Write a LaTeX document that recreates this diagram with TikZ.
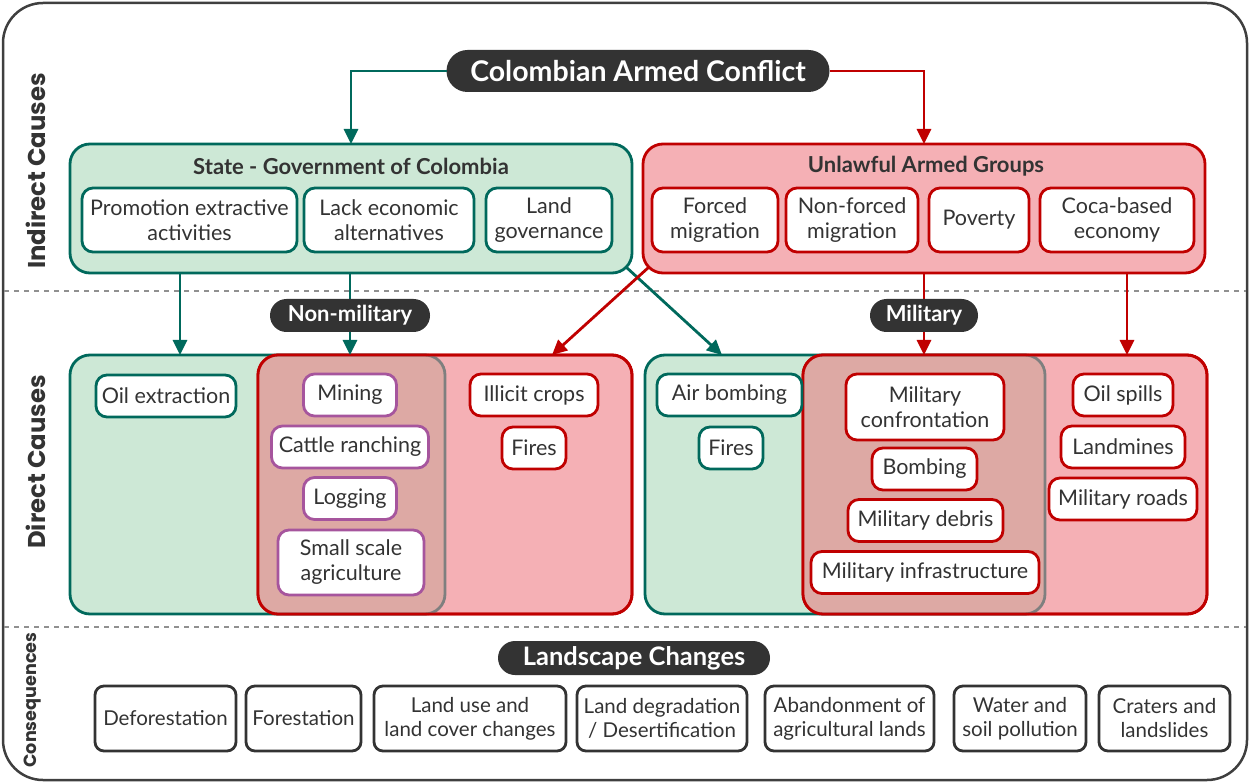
\documentclass[tikz,border=0pt]{standalone}
\usepackage{fontspec}
\setmainfont{Lato}
\newfontfamily\sidefont{Poppins}
\usetikzlibrary{arrows.meta,calc}
\definecolor{tealc}{HTML}{00695C}
\definecolor{greenf}{HTML}{CDE8D6}
\definecolor{redc}{HTML}{C00000}
\definecolor{pinkf}{HTML}{F5B0B5}
\definecolor{overf}{HTML}{DDA9A4}
\definecolor{grayedge}{HTML}{7F7F7F}
\definecolor{purpc}{HTML}{A6559D}
\definecolor{darkc}{HTML}{333333}
\definecolor{framec}{HTML}{3F3F3F}
\definecolor{dashc}{HTML}{909090}
\begin{document}
\begin{tikzpicture}[x=1pt,y=-1pt,
  every node/.style={outer sep=0pt, text=darkc},
  body/.style={font=\fontsize{21.5}{25}\selectfont},
  inbox/.style={draw, fill=white, rounded corners=11, line width=2.8pt, align=center, inner sep=0pt, minimum height=42pt, body},
  tbox/.style={inbox, draw=tealc},
  rbox/.style={inbox, draw=redc},
  pbox/.style={inbox, draw=purpc},
  cbox/.style={draw=darkc, fill=white, rounded corners=9, line width=2.8pt, align=center, inner sep=0pt, minimum height=65pt, font=\fontsize{20.5}{24}\selectfont},
  gbig/.style={draw=tealc, fill=greenf, rounded corners=20, line width=2.8pt, inner sep=0pt},
  rbig/.style={draw=redc, fill=pinkf, rounded corners=20, line width=2.8pt, inner sep=0pt},
  gtitle/.style={font=\bfseries\fontsize{22}{26}\selectfont},
  pill/.style={fill=darkc, text=white, inner sep=0pt, font=\bfseries\fontsize{22}{26}\selectfont},
  sidelab/.style={rotate=90, text=darkc, font=\sidefont\bfseries\fontsize{24.3}{28}\selectfont},
  tarr/.style={draw=tealc, line width=2.8pt, -{Triangle[width=14pt,length=15pt]}},
  rarr/.style={draw=redc, line width=2.8pt, -{Triangle[width=14pt,length=15pt]}},
  dashline/.style={draw=dashc, line width=2.5pt, dash pattern=on 5pt off 5pt}
]
\useasboundingbox (0,0) rectangle (1250,783);
% frame
\draw[draw=framec, line width=2.5pt, rounded corners=40] (3,3) rectangle (1247,780);
\draw[dashline] (4,291) -- (1246,291);
\draw[dashline] (4,627) -- (1246,627);
% side labels
\node[sidelab] (lab1) at (36,171) {Indirect Causes};
\node[sidelab] (lab2) at (36,462) {Direct Causes};
\node[sidelab, font=\sidefont\bfseries\fontsize{17.6}{20}\selectfont] (lab3) at (33,700) {Consequences};

% columns
\coordinate (c1) at (180,0);
\coordinate (c2) at (350,0);
\coordinate (c3) at (924,0);
\coordinate (c4) at (1127,0);
\coordinate (d1) at (722,0);
\coordinate (d2) at (552,0);

% title
\node[pill, rounded corners=21, minimum width=383pt, minimum height=42pt, font=\bfseries\fontsize{28.5}{32}\selectfont] (conf) at (638,71) {Colombian Armed Conflict};

% indirect groups
\node[gbig, minimum width=562pt, minimum height=129pt] (state) at (351,208.5) {};
\node[rbig, minimum width=562pt, minimum height=129pt] (ua) at (924,208.5) {};
\node[gtitle] (statet) at (351,166) {State - Government of Colombia};
\node[gtitle] (uat) at (926,166) {Unlawful Armed Groups};
\node[tbox, minimum width=215pt, minimum height=64pt] (p1) at (189.5,220) {Promotion extractive\\activities};
\node[tbox, minimum width=170pt, minimum height=64pt] (p2) at (389,220) {Lack economic\\alternatives};
\node[tbox, minimum width=126pt, minimum height=64pt] (p3) at (549,220) {Land\\governance};
\node[rbox, minimum width=126pt, minimum height=64pt] (u1) at (715,220) {Forced\\migration};
\node[rbox, minimum width=132pt, minimum height=64pt] (u2) at (852,220) {Non-forced\\migration};
\node[rbox, minimum width=100pt, minimum height=64pt] (u3) at (979,220) {Poverty};
\node[rbox, minimum width=154pt, minimum height=64pt] (u4) at (1117,220) {Coca-based\\economy};

% direct groups
\node[gbig, minimum width=375pt, minimum height=259pt] (gb1) at (257.5,484.5) {};
\node[rbig, minimum width=374pt, minimum height=259pt] (rb1) at (445,484.5) {};
\node[gbig, minimum width=400pt, minimum height=259pt] (gb2) at (845,484.5) {};
\node[rbig, minimum width=404pt, minimum height=259pt] (rb2) at (1005,484.5) {};
\begin{scope}
\clip[rounded corners=20] (rb1.south west) rectangle (rb1.north east);
\fill[overf, rounded corners=20] (gb1.south west) rectangle (gb1.north east);
\draw[grayedge, line width=2.8pt, rounded corners=20] (gb1.south west) rectangle (gb1.north east);
\end{scope}
\draw[redc, line width=2.8pt, rounded corners=20] (rb1.south west) rectangle (rb1.north east);
\begin{scope}
\clip[rounded corners=20] (rb2.south west) rectangle (rb2.north east);
\fill[overf, rounded corners=20] (gb2.south west) rectangle (gb2.north east);
\draw[grayedge, line width=2.8pt, rounded corners=20] (gb2.south west) rectangle (gb2.north east);
\end{scope}
\draw[redc, line width=2.8pt, rounded corners=20] (rb2.south west) rectangle (rb2.north east);

% arrows
\draw[tarr] (conf.west) -| (state.north);
\draw[rarr] (conf.east) -| (ua.north);
\draw[tarr] (state.south -| c1) -- (gb1.north -| c1);
\draw[tarr] (state.south -| c2) -- (gb1.north -| c2);
\draw[rarr] (ua.south -| c3) -- (rb2.north -| c3);
\draw[rarr] (ua.south -| c4) -- (rb2.north -| c4);
\draw[tarr] ($(state.south east)+(-6,-6)$) -- (gb2.north -| d1);
\draw[rarr] ($(ua.south west)+(6,-6)$) -- (rb1.north -| d2);

\node[pill, rounded corners=16.5, minimum width=160pt, minimum height=33pt] (nonmil) at (350,315.5) {Non-military};
\node[pill, rounded corners=16.5, minimum width=108pt, minimum height=33pt] (mil) at (924,315.5) {Military};

% direct nodes left
\node[tbox, minimum width=140pt] (oil) at (166,396) {Oil extraction};
\node[pbox, minimum width=93pt] (mining) at (350,395) {Mining};
\node[pbox, minimum width=157pt] (cattle) at (350,447) {Cattle ranching};
\node[pbox, minimum width=93pt] (logging) at (350,498.5) {Logging};
\node[pbox, minimum width=146pt, minimum height=65pt] (small) at (351,562.5) {Small scale\\agriculture};
\node[rbox, minimum width=128pt] (illicit) at (534,395) {Illicit crops};
\node[rbox, minimum width=64pt] (fires1) at (534,448) {Fires};
% direct nodes right
\node[tbox, minimum width=145pt] (air) at (729.5,395) {Air bombing};
\node[tbox, minimum width=64pt] (fires2) at (731,448) {Fires};
\node[rbox, minimum width=158pt, minimum height=66pt] (conf2) at (925,407) {Military\\confrontation};
\node[rbox, minimum width=105pt] (bomb) at (924.5,469) {Bombing};
\node[rbox, minimum width=155pt] (debris) at (925.5,520.5) {Military debris};
\node[rbox, minimum width=228pt] (infra) at (925,572.5) {Military infrastructure};
\node[rbox, minimum width=100pt] (spills) at (1123,395) {Oil spills};
\node[rbox, minimum width=124pt] (mines) at (1123,447) {Landmines};
\node[rbox, minimum width=148pt] (roads) at (1123,499) {Military roads};

% consequences
\node[pill, rounded corners=17, minimum width=272pt, minimum height=34pt, font=\bfseries\fontsize{25.5}{28}\selectfont] (land) at (634,658) {Landscape Changes};
\node[cbox, minimum width=141pt] (k1) at (165.5,718.5) {Deforestation};
\node[cbox, minimum width=115pt] (k2) at (303.5,718.5) {Forestation};
\node[cbox, minimum width=192pt] (k3) at (470,718.5) {Land use and\\land cover changes};
\node[cbox, minimum width=170pt] (k4) at (662,718.5) {Land degradation\\/ Desertification};
\node[cbox, minimum width=169pt] (k5) at (849.5,718.5) {Abandonment of\\agricultural lands};
\node[cbox, minimum width=132pt] (k6) at (1020,718.5) {Water and\\soil pollution};
\node[cbox, minimum width=131pt] (k7) at (1164.5,718.5) {Craters and\\landslides};
\end{tikzpicture}
\end{document}
